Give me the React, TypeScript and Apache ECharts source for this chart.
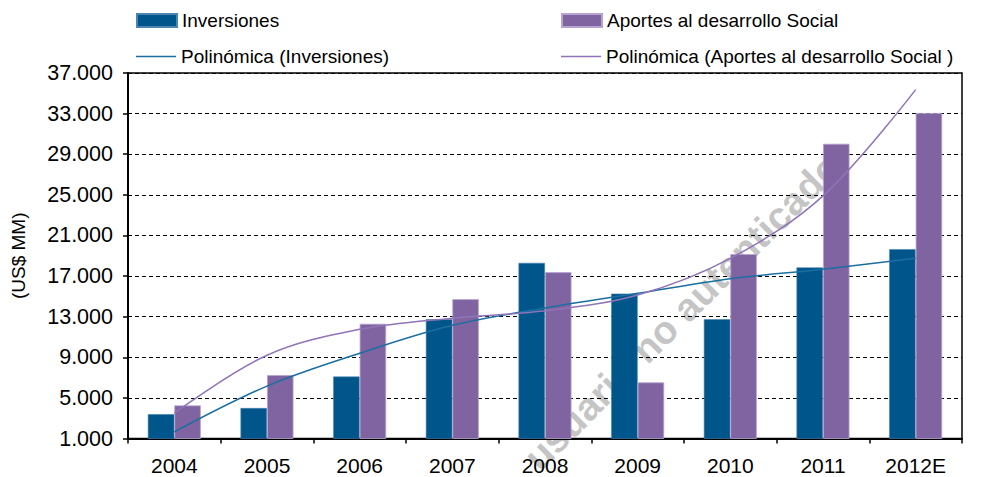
import React, { useEffect, useRef } from "react";
import * as echarts from "echarts";

const categories = ["2004", "2005", "2006", "2007", "2008", "2009", "2010", "2011", "2012E"];
const inversiones = [3400, 4000, 7100, 12750, 18300, 15270, 12750, 17850, 19650];
const aportes = [4260, 7250, 12300, 14720, 17380, 6530, 19170, 30030, 33060];
const trendInversiones = [1650, 6160, 9390, 12150, 13850, 15300, 16740, 17670, 18760];
const trendAportes = [3500, 9200, 11750, 12850, 13580, 15140, 18750, 24900, 35360];
const yMin = 1000;
const yMax = 37000;
const yStep = 4000;

const FONT = "Liberation Sans, Arial, sans-serif";
const BLUE = "#00558A";
const PURPLE = "#8064A2";
const BLUE_LINE = "#1A6EA0";
const PURPLE_LINE = "#8F74B8";

const fmt = (v: number) => String(v).replace(/\B(?=(\d{3})+(?!\d))/g, ".");

export default function App() {
  const ref = useRef<HTMLDivElement>(null);
  useEffect(() => {
    document.body.style.margin = "0";
    const chart = echarts.init(ref.current!, null, { renderer: "svg" });
    const legendText = { fontFamily: FONT, fontSize: 19, color: "#000" };
    chart.setOption({
      animation: false,
      backgroundColor: "#fff",
      grid: {
        left: 128,
        right: 19,
        top: 73,
        bottom: 38.5,
        show: true,
        borderColor: "#000",
        borderWidth: 1.5,
        backgroundColor: "transparent",
      },
      legend: [
        {
          data: [{ name: "Inversiones", icon: "rect" }],
          left: 136, top: 11, padding: 0, itemWidth: 40, itemHeight: 13,
          textStyle: legendText, selectedMode: false,
        },
        {
          data: [{ name: "Aportes al desarrollo Social", icon: "rect" }],
          left: 561, top: 11, padding: 0, itemWidth: 40, itemHeight: 13,
          textStyle: legendText, selectedMode: false,
        },
        {
          data: [{ name: "Polinómica (Inversiones)", icon: "rect" }],
          left: 136, top: 47, padding: 0, itemWidth: 40, itemHeight: 1.5,
          textStyle: legendText, selectedMode: false,
        },
        {
          data: [{ name: "Polinómica (Aportes al desarrollo Social )", icon: "rect" }],
          left: 561, top: 47, padding: 0, itemWidth: 40, itemHeight: 1.5,
          textStyle: legendText, selectedMode: false,
        },
      ],
      graphic: [
        {
          type: "text",
          x: 834,
          y: 160,
          rotation: Math.PI / 4,
          z: -10,
          zlevel: 0,
          silent: true,
          style: {
            text: "usuario no autenticado",
            fill: "rgba(175,175,175,0.72)",
            font: `bold 39px ${FONT}`,
            textAlign: "right",
            textVerticalAlign: "middle",
          },
        },
      ],
      xAxis: {
        type: "category",
        data: categories,
        boundaryGap: true,
        axisLine: { show: true, lineStyle: { color: "#000", width: 2 } },
        axisTick: { show: true, length: 5, alignWithLabel: false, lineStyle: { color: "#000", width: 1.5 } },
        axisLabel: { fontFamily: FONT, fontSize: 21, color: "#000", margin: 16, interval: 0 },
        splitLine: { show: false },
      },
      yAxis: {
        type: "value",
        min: yMin,
        max: yMax,
        interval: yStep,
        name: "(US$ MM)",
        nameLocation: "middle",
        nameGap: 100,
        nameRotate: 90,
        nameTextStyle: { fontFamily: FONT, fontSize: 19, color: "#000" },
        axisLine: { show: true, lineStyle: { color: "#000", width: 2 } },
        axisTick: { show: true, length: 5, lineStyle: { color: "#000", width: 1.5 } },
        axisLabel: {
          fontFamily: FONT, fontSize: 21.5, color: "#000", margin: 15,
          formatter: (v: number) => fmt(v),
        },
        splitLine: { show: true, lineStyle: { color: "#000", width: 1, type: [4, 3] } },
      },
      series: [
        {
          name: "Inversiones",
          type: "bar",
          data: inversiones,
          barWidth: 26.5,
          barGap: "0%",
          z: 10,
          itemStyle: { color: BLUE, borderColor: "#4A86B0", borderWidth: 0.6 },
        },
        {
          name: "Aportes al desarrollo Social",
          type: "bar",
          data: aportes,
          barWidth: 26.5,
          barGap: "0%",
          z: 10,
          itemStyle: { color: PURPLE, borderColor: "#B6A4CF", borderWidth: 0.8 },
        },
        {
          name: "Polinómica (Inversiones)",
          type: "line",
          data: trendInversiones,
          smooth: 0.35,
          symbol: "none",
          z: 12,
          lineStyle: { color: BLUE_LINE, width: 1.5 },
          itemStyle: { color: BLUE_LINE },
        },
        {
          name: "Polinómica (Aportes al desarrollo Social )",
          type: "line",
          data: trendAportes,
          smooth: 0.35,
          symbol: "none",
          z: 12,
          lineStyle: { color: PURPLE_LINE, width: 1.5 },
          itemStyle: { color: PURPLE_LINE },
        },
      ],
    });
    return () => chart.dispose();
  }, []);
  return (
    <div
      ref={ref}
      style={{ position: "fixed", left: 0, top: 0, width: 981, height: 477 }}
    />
  );
}
